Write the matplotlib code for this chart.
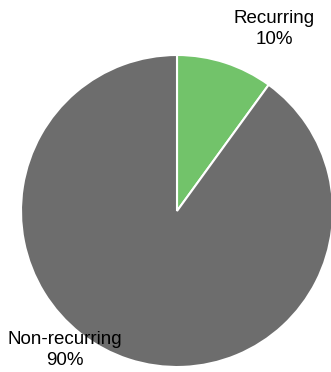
import matplotlib.pyplot as plt

W, H = 331, 372

labels = ["Recurring", "Non-recurring"]
shares = [10, 90]
colors = ["#72c36a", "#6d6d6d"]

plt.rcParams["font.family"] = ["Liberation Sans", "DejaVu Sans"]

fig = plt.figure(figsize=(W / 100, H / 100), dpi=100, facecolor="white")
ax = fig.add_axes([0, 0, 1, 1])

ax.pie(shares, colors=colors, startangle=90, counterclock=False,
       center=(177, H - 211), radius=156,
       wedgeprops=dict(edgecolor="white", linewidth=1.5))

ax.set_xlim(0, W)
ax.set_ylim(0, H)
ax.set_aspect("equal")
ax.axis("off")

# slice labels sit outside the pie, top-right and bottom-left
ax.text(274, H - 29, f"{labels[0]}\n{shares[0]}%", ha="center", va="center",
        fontsize=13.5, color="black", linespacing=1.3)
ax.text(65, H - 350, f"{labels[1]}\n{shares[1]}%", ha="center", va="center",
        fontsize=13.5, color="black", linespacing=1.3)

fig.savefig("out.png", dpi=100, facecolor="white")
